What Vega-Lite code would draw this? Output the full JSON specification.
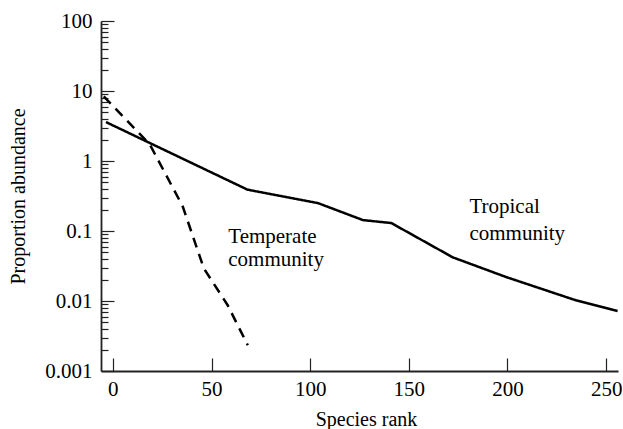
{
  "$schema": "https://vega.github.io/schema/vega-lite/v6.json",
  "width": 517,
  "height": 350,
  "autosize": "none",
  "padding": {"left": 101, "top": 21, "right": 5, "bottom": 58},
  "background": "white",
  "config": {
    "view": {"stroke": null},
    "font": "Liberation Serif, Times New Roman, serif",
    "axis": {"grid": false, "domainColor": "#222", "tickColor": "#222", "labelColor": "black", "titleColor": "black", "labelFont": "Liberation Serif, Times New Roman, serif", "titleFont": "Liberation Serif, Times New Roman, serif", "titleFontWeight": "normal", "labelFontSize": 21, "titleFontSize": 20}
  },
  "resolve": {"axis": {"y": "independent"}},
  "datasets": {
    "curves": [
      {"rank": -3.5, "abundance": 3.6, "community": "Tropical"},
      {"rank": 68.2, "abundance": 0.39, "community": "Tropical"},
      {"rank": 104, "abundance": 0.25, "community": "Tropical"},
      {"rank": 126.8, "abundance": 0.143, "community": "Tropical"},
      {"rank": 141.1, "abundance": 0.13, "community": "Tropical"},
      {"rank": 172.3, "abundance": 0.042, "community": "Tropical"},
      {"rank": 199.3, "abundance": 0.022, "community": "Tropical"},
      {"rank": 234.8, "abundance": 0.0102, "community": "Tropical"},
      {"rank": 255.8, "abundance": 0.0072, "community": "Tropical"},
      {"rank": -4.6, "abundance": 8.4, "community": "Temperate"},
      {"rank": 18.7, "abundance": 1.73, "community": "Temperate"},
      {"rank": 35.4, "abundance": 0.225, "community": "Temperate"},
      {"rank": 46.1, "abundance": 0.0293, "community": "Temperate"},
      {"rank": 58.2, "abundance": 0.0087, "community": "Temperate"},
      {"rank": 68.4, "abundance": 0.00233, "community": "Temperate"}
    ],
    "labels": [
      {"rank": 58.5, "abundance": 0.0813, "text": "Temperate"},
      {"rank": 58.5, "abundance": 0.0381, "text": "community"},
      {"rank": 180.7, "abundance": 0.218, "text": "Tropical"},
      {"rank": 180.7, "abundance": 0.0897, "text": "community"}
    ]
  },
  "layer": [
    {
      "data": {"name": "curves"},
      "mark": {"type": "line", "color": "black", "strokeWidth": 2.5, "clip": false},
      "encoding": {
        "x": {
          "field": "rank", "type": "quantitative",
          "scale": {"domain": [-6, 256], "nice": false, "zero": false},
          "axis": {"title": "Species rank", "values": [0, 50, 100, 150, 200, 250], "tickSize": -13, "tickWidth": 1.2, "domainWidth": 1.8, "labelPadding": 20, "titlePadding": 10, "titleX": 265, "labelFlush": false}
        },
        "y": {
          "field": "abundance", "type": "quantitative",
          "scale": {"type": "log", "domain": [0.001, 100], "nice": false},
          "axis": {"title": "Proportion abundance", "values": [0.001, 0.01, 0.1, 1, 10, 100], "format": "~g", "tickSize": -13, "tickWidth": 1.2, "domainWidth": 1.8, "labelPadding": 22, "titlePadding": 16, "labelFlush": false}
        },
        "strokeDash": {
          "field": "community", "type": "nominal",
          "scale": {"domain": ["Tropical", "Temperate"], "range": [[1, 0], [10, 7]]},
          "legend": null
        },
        "detail": {"field": "community"}
      }
    },
    {
      "data": {"name": "curves"},
      "mark": {"type": "rule", "opacity": 0},
      "encoding": {
        "y": {
          "field": "abundance", "type": "quantitative",
          "axis": {"orient": "left", "title": null, "labels": false, "domain": false, "tickSize": -7, "tickWidth": 1.2,
            "values": [0.002,0.003,0.004,0.005,0.006,0.007,0.008,0.009,0.02,0.03,0.04,0.05,0.06,0.07,0.08,0.09,0.2,0.3,0.4,0.5,0.6,0.7,0.8,0.9,2,3,4,5,6,7,8,9,20,30,40,50,60,70,80,90]}
        }
      }
    },
    {
      "data": {"name": "labels"},
      "mark": {"type": "text", "align": "left", "baseline": "middle", "fontSize": 21, "font": "Liberation Serif, Times New Roman, serif", "color": "black"},
      "encoding": {
        "x": {"field": "rank", "type": "quantitative"},
        "y": {"field": "abundance", "type": "quantitative", "axis": null},
        "text": {"field": "text"}
      }
    }
  ]
}
